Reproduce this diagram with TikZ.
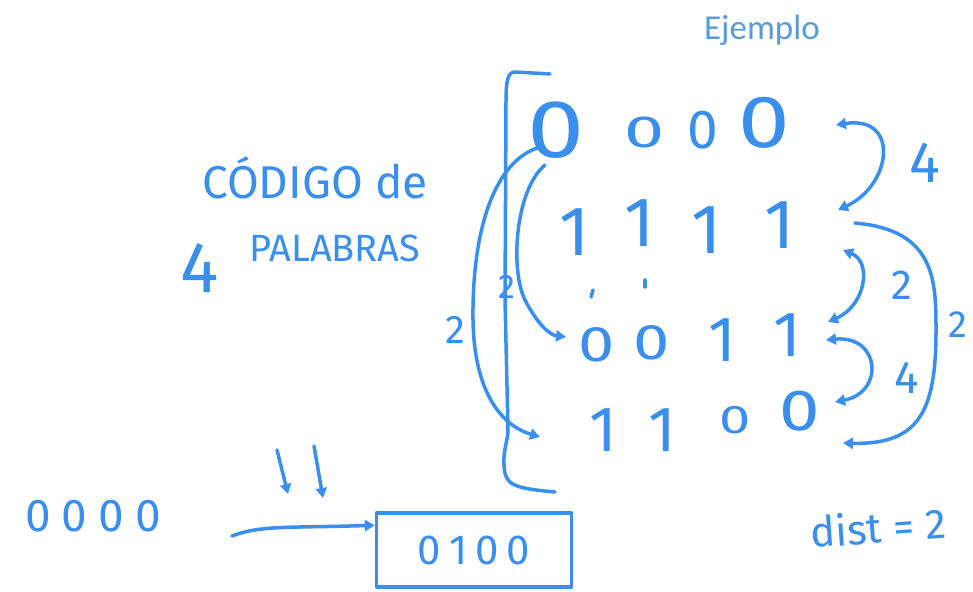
\documentclass[tikz,border=0pt]{standalone}
\usepackage{fontspec}
\setmainfont{Fira Sans}
\newfontfamily\ejfont{Carlito}
\usetikzlibrary{arrows.meta}
\definecolor{penblue}{HTML}{3A8EEC}
\definecolor{titleblue}{HTML}{5B9BD5}
\newcommand\fsz[1]{\fontsize{#1}{#1}\selectfont}
\tikzset{
  hw/.style={text=penblue, inner sep=0pt, font=\fsz{#1}},
  stroke/.style={draw=penblue, line width=3.5pt, line cap=round, line join=round},
  arr/.style={stroke, -{Triangle[length=10pt,width=11pt]}},
  twoway/.style={stroke, {Triangle[length=10pt,width=11pt]}-{Triangle[length=10pt,width=11pt]}},
  titletext/.style={text=titleblue, inner sep=0pt, font=\ejfont\fsz{35}}
}
\begin{document}
\begin{tikzpicture}[x=1pt,y=-1pt]
\fill[white] (0,0) rectangle (973,591);
\useasboundingbox (0,0) rectangle (973,591);

\node[titletext] (title) at (762,30) {Ejemplo};

\node[hw=46] (codigo) at (315,178) {CÓDIGO de};
\node[hw=72] (four) at (200,268) {4};
\node[hw=38] (palabras) at (335,248) {PALABRAS};

% row 1
\node[hw=82] (r1a) at (556,130) {\scalebox{1.25}[1]{0}};
\node[hw=45] (r1b) at (645,132) {\scalebox{1.6}[1]{0}};
\node[hw=55] (r1c) at (703,130) {0};
\node[hw=74] (r1d) at (764,123) {\scalebox{1.25}[1]{0}};
% row 2
\node[hw=70] (r2a) at (575,232) {1};
\node[hw=70] (r2b) at (640,223) {1};
\node[hw=70] (r2c) at (707,230) {1};
\node[hw=70] (r2d) at (780,225) {1};
% row 3
\node[hw=50] (r3a) at (597,345) {\scalebox{1.3}[1]{0}};
\node[hw=50] (r3b) at (652,343) {\scalebox{1.3}[1]{0}};
\node[hw=64] (r3c) at (722,340) {1};
\node[hw=64] (r3d) at (787,335) {1};
% row 4
\node[hw=64] (r4a) at (603,430) {1};
\node[hw=64] (r4b) at (662,430) {1};
\node[hw=40] (r4c) at (735,420) {\scalebox{1.4}[1]{0}};
\node[hw=58] (r4d) at (800,411) {\scalebox{1.25}[1]{0}};

% small marks
\draw[stroke] (593,290) -- (591,297);
\draw[stroke] (645,280) -- (645,287);

% bracket
\draw[stroke] (550,74) -- (515,72) .. controls (508,72) and (506,80) .. (506,100)
  -- (505,300) -- (508,430) .. controls (508,440) and (503,450) .. (504,465)
  .. controls (505,485) and (512,488) .. (555,492);

% distance labels
\node[hw=40] (l2a) at (455,330) {2};
\node[hw=34] (l2b) at (507,287) {2};
\node[hw=58] (l4a) at (925,163) {4};
\node[hw=42] (l2c) at (902,285) {2};
\node[hw=46] (l4b) at (907,378) {4};
\node[hw=38] (l2d) at (958,325) {2};

% left arrows
\coordinate (a1s) at (537,148);
\coordinate (a1e) at (540,437);
\draw[arr] (a1s) .. controls (490,165) and (472,240) .. (473,320)
  .. controls (474,390) and (500,425) .. (a1e);
\coordinate (a2s) at (545,165);
\coordinate (a2e) at (566,337);
\draw[arr] (a2s) .. controls (515,190) and (510,270) .. (525,300)
  .. controls (538,325) and (550,335) .. (a2e);

% right arrows
\coordinate (e1) at (836,125);
\coordinate (e2) at (838,210);
\coordinate (e2b) at (855,223);
\coordinate (e3) at (843,250);
\coordinate (e4) at (828,322);
\coordinate (e5) at (826,340);
\coordinate (e6) at (835,402);
\coordinate (e7) at (843,443);
\draw[twoway] (e1) .. controls (900,115) and (892,185) .. (e2);
\draw[twoway] (e3) .. controls (872,262) and (866,305) .. (e4);
\draw[twoway] (e5) .. controls (880,335) and (885,392) .. (e6);
\draw[arr] (e2b) .. controls (935,230) and (936,280) .. (936,330)
  .. controls (936,410) and (920,445) .. (e7);

% bottom
\node[hw=46] (zeros) at (93,516) {0\hspace{11pt}0\hspace{11pt}0\hspace{11pt}0};
\node[stroke, hw=42, minimum width=195pt, minimum height=74pt] (box) at (474,550)
  {0\hspace{8pt}1\hspace{8pt}0\hspace{8pt}0};
\coordinate (d1s) at (277,450);
\coordinate (d1e) at (288,494);
\coordinate (d2s) at (314,446);
\coordinate (d2e) at (323,498);
\draw[arr] (d1s) -- (d1e);
\draw[arr] (d2s) -- (d2e);
\coordinate (h0) at (232,536);
\draw[arr] (h0) .. controls (260,525) and (290,528) .. ([yshift=-14pt]box.north west);

\node[hw=42, rotate=4] (dist) at (878,527) {dist = 2};
\end{tikzpicture}
\end{document}
